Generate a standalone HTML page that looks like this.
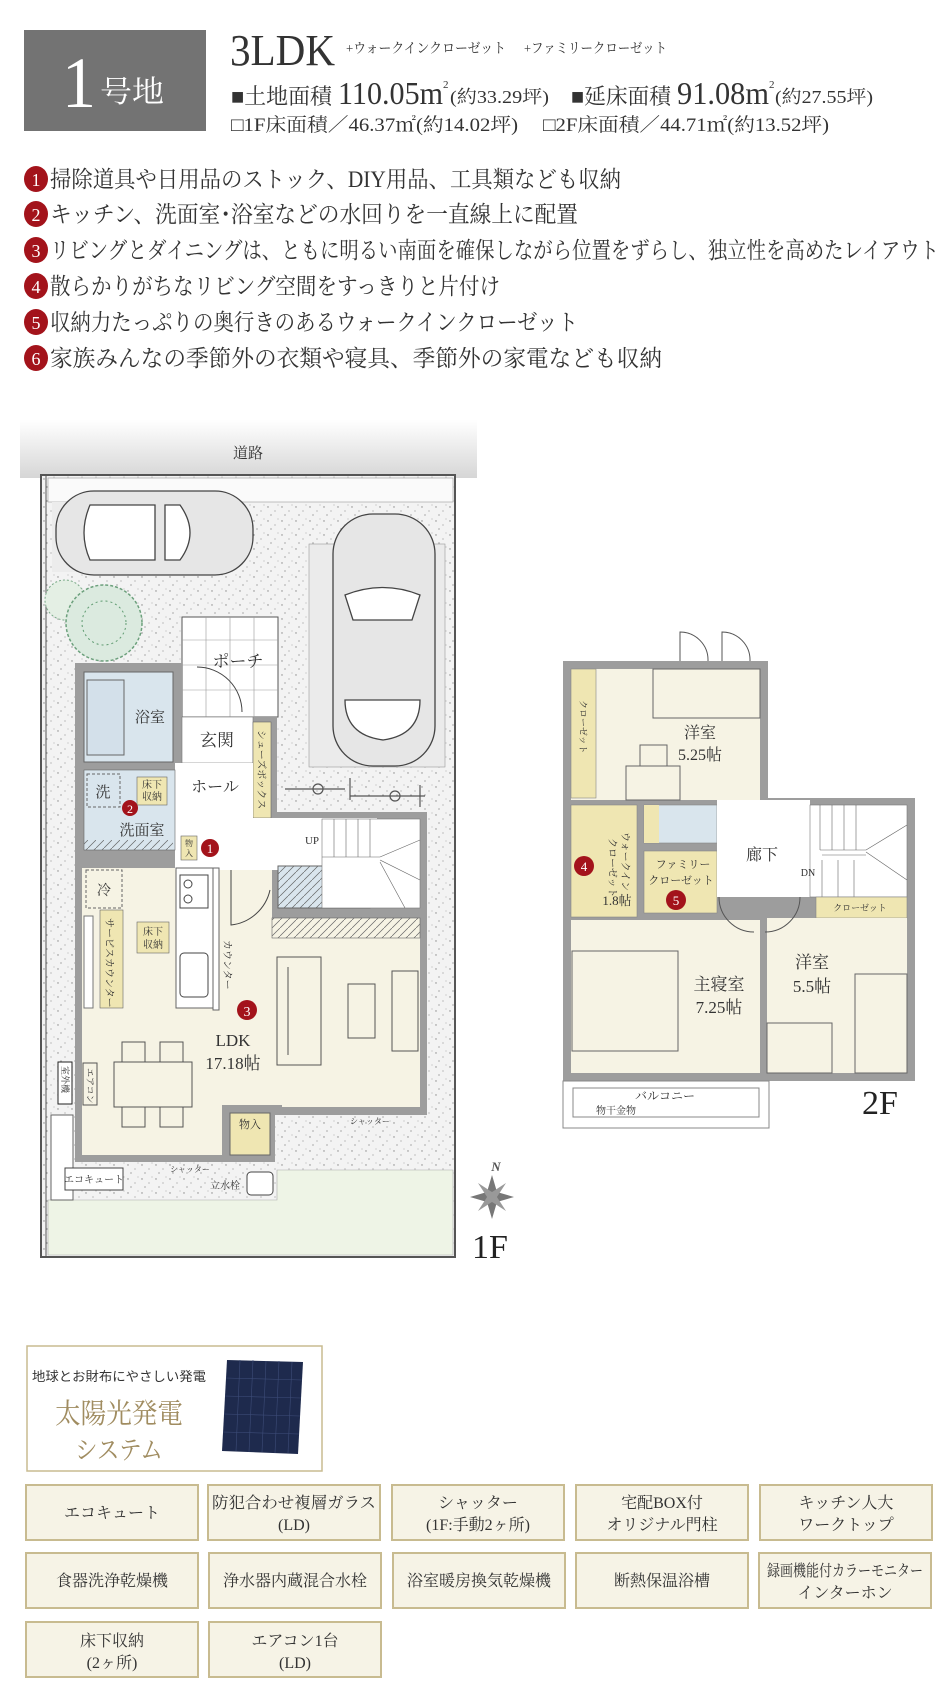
<!DOCTYPE html>
<html><head><meta charset="utf-8"><style>
html,body{margin:0;padding:0;background:#fff;}
body{width:950px;height:1700px;overflow:hidden;}
svg text{font-family:"Liberation Serif","Noto Serif CJK SC",serif;fill:#333;}
.s{font-family:"Liberation Sans","Noto Sans CJK SC",sans-serif;}
</style></head><body>
<svg width="950" height="1700" viewBox="0 0 950 1700" xmlns="http://www.w3.org/2000/svg">
<defs>
<pattern id="sp" width="14" height="14" patternUnits="userSpaceOnUse">
<rect width="14" height="14" fill="#f3f3f3"/>
<circle cx="2" cy="3" r=".7" fill="#888"/><circle cx="9" cy="7" r=".6" fill="#999"/><circle cx="5" cy="11" r=".6" fill="#777"/><circle cx="12" cy="1" r=".5" fill="#999"/>
</pattern>
<pattern id="ht" width="8" height="8" patternUnits="userSpaceOnUse">
<path d="M0 8 L8 0" stroke="#666" stroke-width=".7"/>
</pattern>
<linearGradient id="rd" x1="0" y1="0" x2="0" y2="1"><stop offset="0" stop-color="#fff"/><stop offset="1" stop-color="#d6d6d6"/></linearGradient>
</defs>

<!-- header -->
<rect x="24" y="30" width="182" height="101" fill="#737373"/>
<text x="62" y="107" font-size="72" style="fill:#fff" textLength="34" lengthAdjust="spacingAndGlyphs">1</text>
<text x="100" y="102" font-size="30" style="fill:#fff" textLength="64" lengthAdjust="spacingAndGlyphs">号地</text>
<text x="230" y="65" font-size="44" textLength="105" lengthAdjust="spacingAndGlyphs">3LDK</text>
<text x="346" y="53" font-size="14" textLength="160" lengthAdjust="spacingAndGlyphs">+ウォークインクローゼット</text>
<text x="524" y="53" font-size="14" textLength="143" lengthAdjust="spacingAndGlyphs">+ファミリークローゼット</text>
<text x="231" y="104" font-size="22" textLength="101" lengthAdjust="spacingAndGlyphs">■土地面積</text>
<text x="338" y="104" font-size="32" textLength="105" lengthAdjust="spacingAndGlyphs">110.05m</text>
<text x="443" y="88" font-size="11">2</text>
<text x="450" y="103" font-size="18" textLength="99" lengthAdjust="spacingAndGlyphs">(約33.29坪)</text>
<text x="571" y="104" font-size="22" textLength="100" lengthAdjust="spacingAndGlyphs">■延床面積</text>
<text x="677" y="104" font-size="32" textLength="92" lengthAdjust="spacingAndGlyphs">91.08m</text>
<text x="769" y="88" font-size="11">2</text>
<text x="775" y="103" font-size="18" textLength="98" lengthAdjust="spacingAndGlyphs">(約27.55坪)</text>
<text x="231" y="131" font-size="19" textLength="287" lengthAdjust="spacingAndGlyphs">□1F床面積／46.37㎡(約14.02坪)</text>
<text x="543" y="131" font-size="19" textLength="286" lengthAdjust="spacingAndGlyphs">□2F床面積／44.71㎡(約13.52坪)</text>

<!-- bullets -->
<g font-size="23">
<ellipse cx="36" cy="179" rx="12" ry="13" fill="#a3131b"/><text x="36" y="186" font-size="18" text-anchor="middle" style="fill:#fff">1</text>
<text x="50" y="187" textLength="571" lengthAdjust="spacingAndGlyphs">掃除道具や日用品のストック、DIY用品、工具類なども収納</text>
<ellipse cx="36" cy="214" rx="12" ry="13" fill="#a3131b"/><text x="36" y="221" font-size="18" text-anchor="middle" style="fill:#fff">2</text>
<text x="50" y="222" textLength="528" lengthAdjust="spacingAndGlyphs">キッチン、洗面室･浴室などの水回りを一直線上に配置</text>
<ellipse cx="36" cy="250" rx="12" ry="13" fill="#a3131b"/><text x="36" y="257" font-size="18" text-anchor="middle" style="fill:#fff">3</text>
<text x="50" y="258" textLength="889" lengthAdjust="spacingAndGlyphs">リビングとダイニングは、ともに明るい南面を確保しながら位置をずらし、独立性を高めたレイアウト</text>
<ellipse cx="36" cy="286" rx="12" ry="13" fill="#a3131b"/><text x="36" y="293" font-size="18" text-anchor="middle" style="fill:#fff">4</text>
<text x="50" y="294" textLength="450" lengthAdjust="spacingAndGlyphs">散らかりがちなリビング空間をすっきりと片付け</text>
<ellipse cx="36" cy="322" rx="12" ry="13" fill="#a3131b"/><text x="36" y="329" font-size="18" text-anchor="middle" style="fill:#fff">5</text>
<text x="50" y="330" textLength="528" lengthAdjust="spacingAndGlyphs">収納力たっぷりの奥行きのあるウォークインクローゼット</text>
<ellipse cx="36" cy="358" rx="12" ry="13" fill="#a3131b"/><text x="36" y="365" font-size="18" text-anchor="middle" style="fill:#fff">6</text>
<text x="50" y="366" textLength="612" lengthAdjust="spacingAndGlyphs">家族みんなの季節外の衣類や寝具、季節外の家電なども収納</text>
</g>

<!-- 1F -->
<rect x="20" y="420" width="457" height="58" fill="url(#rd)"/>
<text x="248" y="458" font-size="15" text-anchor="middle">道路</text>
<rect x="41" y="475" width="414" height="782" fill="url(#sp)" stroke="#555" stroke-width="2"/>
<line x1="46" y1="476" x2="46" y2="1256" stroke="#555" stroke-width="1"/>
<rect x="48" y="478" width="405" height="24" fill="#fafafa" stroke="#999" stroke-width=".6"/>
<rect x="52" y="502" width="140" height="70" fill="#ececec"/>
<rect x="309" y="544" width="136" height="223" fill="#ebebeb" stroke="#999" stroke-width=".6"/>
<!-- lawn -->
<path d="M48 1200 L277 1200 L277 1170 L453 1170 L453 1255 L48 1255 Z" fill="#eef4e6" stroke="#aaa" stroke-width=".6"/>
<!-- cars -->
<g fill="#e6e6e6" stroke="#444" stroke-width="1.3">
<rect x="56" y="491" width="197" height="84" rx="38"/>
<path d="M90 505 Q78 533 90 560 L155 560 L155 505 Z" fill="#fff"/>
<path d="M180 505 Q200 533 180 560 L165 560 L165 505 Z" fill="#fff"/>
<rect x="333" y="514" width="102" height="252" rx="40"/>
<path d="M345 595 Q383 580 420 595 L412 620 L353 620 Z" fill="#fff"/>
<path d="M345 700 L420 700 Q420 735 383 740 Q345 735 345 700 Z" fill="#fff"/>
</g>
<!-- bicycles -->
<g stroke="#555" stroke-width="1.2" fill="none">
<line x1="285" y1="789" x2="345" y2="789"/><circle cx="318" cy="789" r="5"/><line x1="350" y1="778" x2="350" y2="800"/>
<line x1="350" y1="796" x2="425" y2="796"/><circle cx="395" cy="796" r="5"/><line x1="420" y1="785" x2="420" y2="807"/>
</g>
<!-- tree -->
<circle cx="65" cy="600" r="20" fill="#e4efe4" stroke="#7aaa88" stroke-dasharray="2 2"/>
<circle cx="104" cy="623" r="38" fill="#dbeadf" stroke="#6ca07c" stroke-width="1.5" stroke-dasharray="3 2"/>
<circle cx="104" cy="623" r="22" fill="none" stroke="#5e9a70" stroke-dasharray="2 3"/>
<!-- porch -->
<rect x="182" y="617" width="96" height="100" fill="#fff" stroke="#555"/>
<g stroke="#999" stroke-width=".6"><line x1="182" y1="640" x2="278" y2="640"/><line x1="182" y1="665" x2="278" y2="665"/><line x1="182" y1="690" x2="278" y2="690"/><line x1="206" y1="617" x2="206" y2="717"/><line x1="230" y1="617" x2="230" y2="717"/><line x1="254" y1="617" x2="254" y2="717"/></g>
<text x="238" y="667" font-size="17" text-anchor="middle">ポーチ</text>
<path d="M197 667 A45 45 0 0 1 242 712" fill="none" stroke="#444"/>
<!-- house walls base -->
<path d="M75 663 L182 663 L182 717 L277 717 L277 812 L427 812 L427 1115 L275 1115 L275 1162 L75 1162 Z" fill="#9d9d9d"/>
<!-- bath -->
<rect x="84" y="672" width="89" height="90" fill="#d9e5ed" stroke="#666"/>
<rect x="87" y="680" width="37" height="75" fill="#d3e0ea" stroke="#666"/>
<text x="150" y="722" font-size="15" text-anchor="middle">浴室</text>
<!-- genkan -->
<rect x="182" y="717" width="71" height="46" fill="#fff" stroke="#777" stroke-width=".6"/>
<text x="217" y="746" font-size="17" text-anchor="middle">玄関</text>
<rect x="253" y="722" width="18" height="96" fill="#efe6b2" stroke="#666" stroke-width=".6"/>
<text font-size="10" transform="translate(258,730) rotate(90)">シューズボックス</text>
<!-- hall -->
<rect x="175" y="763" width="78" height="107" fill="#fff"/>
<rect x="253" y="818" width="124" height="52" fill="#fff"/>
<text x="215" y="792" font-size="16" text-anchor="middle">ホール</text>
<!-- senmen -->
<rect x="84" y="770" width="91" height="80" fill="#d9e5ed" stroke="#666" stroke-width=".6"/>
<rect x="87" y="774" width="33" height="33" fill="none" stroke="#666" stroke-dasharray="3 2"/>
<text x="103" y="797" font-size="15" text-anchor="middle">洗</text>
<rect x="137" y="777" width="30" height="28" fill="#efe6b2" stroke="#666" stroke-width=".6"/>
<text x="152" y="788" font-size="10" text-anchor="middle">床下</text><text x="152" y="800" font-size="10" text-anchor="middle">収納</text>
<circle cx="130" cy="808" r="8" fill="#a3131b"/><text x="130" y="813" font-size="12" text-anchor="middle" style="fill:#fff">2</text>
<text x="142" y="835" font-size="15" text-anchor="middle">洗面室</text>
<rect x="84" y="840" width="89" height="10" fill="url(#ht)"/>
<rect x="181" y="836" width="16" height="24" fill="#efe6b2" stroke="#666" stroke-width=".6"/>
<text x="189" y="846" font-size="8" text-anchor="middle">物</text><text x="189" y="856" font-size="8" text-anchor="middle">入</text>
<circle cx="210" cy="848" r="9" fill="#a3131b"/><text x="210" y="853" font-size="13" text-anchor="middle" style="fill:#fff">1</text>
<!-- LDK -->
<path d="M82 868 L175 868 L175 870 L272 870 L272 918 L420 918 L420 1107 L282 1107 L282 1105 L222 1105 L222 1155 L82 1155 Z" fill="#f6f3e4"/>
<rect x="278" y="866" width="92" height="42" fill="#d9e5ed" stroke="#666"/>
<rect x="278" y="866" width="92" height="42" fill="url(#ht)"/>
<rect x="355" y="866" width="15" height="42" fill="#efe6b2" opacity=".8"/>
<rect x="322" y="819" width="98" height="89" fill="#fff" stroke="#777" stroke-width=".6"/>
<g stroke="#666" stroke-width=".6"><line x1="334" y1="819" x2="334" y2="857"/><line x1="346" y1="819" x2="346" y2="857"/><line x1="358" y1="819" x2="358" y2="857"/><line x1="370" y1="819" x2="370" y2="857"/><line x1="322" y1="857" x2="380" y2="857"/><line x1="380" y1="857" x2="420" y2="840"/><line x1="380" y1="860" x2="420" y2="880"/><line x1="380" y1="862" x2="405" y2="908"/></g>
<text x="312" y="844" font-size="11" text-anchor="middle">UP</text>
<rect x="272" y="918" width="148" height="20" fill="#f6f3e4" stroke="#666" stroke-width=".6"/>
<rect x="272" y="918" width="148" height="20" fill="url(#ht)"/>
<path d="M231 870 L231 925 A45 45 0 0 0 270 890" fill="none" stroke="#444"/>
<!-- kitchen -->
<rect x="176" y="868" width="37" height="140" fill="#fff" stroke="#666"/>
<rect x="180" y="875" width="28" height="33" fill="#fff" stroke="#444"/>
<circle cx="188" cy="884" r="4" fill="none" stroke="#444"/><circle cx="188" cy="899" r="4" fill="none" stroke="#444"/>
<rect x="180" y="953" width="28" height="44" rx="4" fill="#fff" stroke="#444"/>
<rect x="213" y="868" width="6" height="142" fill="#fff" stroke="#666"/>
<text font-size="10" transform="translate(224,940) rotate(90)">カウンター</text>
<rect x="86" y="870" width="36" height="38" fill="none" stroke="#666" stroke-dasharray="3 2"/>
<text x="104" y="895" font-size="14" text-anchor="middle">冷</text>
<rect x="100" y="910" width="23" height="98" fill="#efe6b2" stroke="#666" stroke-width=".6"/>
<text font-size="10" transform="translate(106,918) rotate(90)">サービスカウンター</text>
<rect x="84" y="916" width="9" height="92" fill="#fff" stroke="#777"/>
<rect x="137" y="922" width="32" height="31" fill="#efe6b2" stroke="#666" stroke-width=".6"/>
<text x="153" y="935" font-size="10" text-anchor="middle">床下</text><text x="153" y="948" font-size="10" text-anchor="middle">収納</text>
<rect x="277" y="957" width="44" height="108" fill="#f6f3e4" stroke="#555"/>
<line x1="288" y1="967" x2="288" y2="1055" stroke="#555"/>
<rect x="348" y="984" width="27" height="54" fill="#f6f3e4" stroke="#555"/>
<rect x="392" y="971" width="26" height="80" fill="#f6f3e4" stroke="#555"/>
<circle cx="247" cy="1010" r="10" fill="#a3131b"/><text x="247" y="1016" font-size="14" text-anchor="middle" style="fill:#fff">3</text>
<text x="233" y="1046" font-size="17" text-anchor="middle">LDK</text>
<text x="233" y="1069" font-size="17" text-anchor="middle">17.18帖</text>
<g fill="#f6f3e4" stroke="#555"><rect x="122" y="1042" width="23" height="20"/><rect x="160" y="1042" width="23" height="20"/><rect x="122" y="1107" width="23" height="20"/><rect x="160" y="1107" width="23" height="20"/><rect x="114" y="1062" width="78" height="45"/></g>
<rect x="83" y="1063" width="14" height="42" fill="none" stroke="#555"/>
<text font-size="9" transform="translate(87,1068) rotate(90)">エアコン</text>
<rect x="58" y="1062" width="14" height="42" fill="#fff" stroke="#222"/>
<text font-size="9" transform="translate(62,1066) rotate(90)">室外機</text>
<rect x="230" y="1113" width="40" height="42" fill="#efe6b2" stroke="#666"/>
<text x="250" y="1128" font-size="11" text-anchor="middle">物入</text>
<rect x="51" y="1115" width="22" height="85" fill="#fff" stroke="#666"/>
<rect x="65" y="1168" width="58" height="22" fill="#fff" stroke="#444"/>
<text x="94" y="1183" font-size="10" text-anchor="middle">エコキュート</text>
<text x="225" y="1189" font-size="10" text-anchor="middle">立水栓</text>
<rect x="247" y="1172" width="26" height="23" rx="4" fill="#fff" stroke="#444"/>
<text x="170" y="1172" font-size="8" fill="#777">シャッター</text>
<text x="350" y="1124" font-size="8" fill="#777">シャッター</text>
<!-- compass -->
<g transform="translate(492,1197)"><path d="M0 -22 L5 -5 L22 0 L5 5 L0 22 L-5 5 L-22 0 L-5 -5 Z" fill="#777"/><path d="M-14 -14 L3 -3 L14 14 L-3 3 Z" fill="#999"/><path d="M14 -14 L3 3 L-14 14 L-3 -3 Z" fill="#999"/></g>
<text x="496" y="1171" font-size="13" font-style="italic" font-weight="bold" text-anchor="middle" style="fill:#555">N</text>
<text x="490" y="1258" font-size="34" text-anchor="middle" style="fill:#222">1F</text>

<!-- 2F -->
<path d="M563 661 L768 661 L768 798 L915 798 L915 1081 L563 1081 Z" fill="#9d9d9d"/>
<rect x="571" y="669" width="189" height="131" fill="#f6f3e4"/>
<rect x="571" y="669" width="25" height="129" fill="#efe6b2" stroke="#888" stroke-width=".6"/>
<text font-size="9" transform="translate(580,700) rotate(90)">クローゼット</text>
<rect x="653" y="669" width="107" height="49" fill="none" stroke="#666"/>
<rect x="626" y="766" width="54" height="34" fill="none" stroke="#666"/>
<rect x="640" y="745" width="27" height="21" fill="none" stroke="#666"/>
<text x="700" y="738" font-size="16" text-anchor="middle">洋室</text>
<text x="700" y="760" font-size="16" text-anchor="middle">5.25帖</text>
<path d="M680 661 L680 632 A28 28 0 0 1 708 661" fill="#fff" stroke="#555"/>
<path d="M722 661 L722 632 A28 28 0 0 1 750 661" fill="#fff" stroke="#555"/>
<rect x="571" y="805" width="66" height="112" fill="#efe6b2" stroke="#888" stroke-width=".6"/>
<circle cx="584" cy="866" r="10" fill="#a3131b"/><text x="584" y="871" font-size="13" text-anchor="middle" style="fill:#fff">4</text>
<text font-size="10" transform="translate(622,832) rotate(90)">ウォークイン</text>
<text font-size="10" transform="translate(609,838) rotate(90)">クローゼット</text>
<text x="617" y="905" font-size="13" text-anchor="middle">1.8帖</text>
<rect x="644" y="805" width="73" height="38" fill="#d9e5ed" stroke="#888" stroke-width=".6"/>
<rect x="644" y="805" width="15" height="38" fill="#efe6b2"/>
<rect x="644" y="851" width="73" height="62" fill="#efe6b2" stroke="#888" stroke-width=".6"/>
<text x="683" y="868" font-size="11" text-anchor="middle">ファミリー</text>
<text x="681" y="884" font-size="11" text-anchor="middle">クローゼット</text>
<circle cx="676" cy="900" r="10" fill="#a3131b"/><text x="676" y="905" font-size="13" text-anchor="middle" style="fill:#fff">5</text>
<rect x="717" y="800" width="93" height="97" fill="#fff"/>
<text x="762" y="860" font-size="16" text-anchor="middle">廊下</text>
<rect x="810" y="805" width="97" height="92" fill="#fff" stroke="#777" stroke-width=".6"/>
<g stroke="#666" stroke-width=".6"><line x1="820" y1="805" x2="820" y2="850"/><line x1="832" y1="805" x2="832" y2="850"/><line x1="844" y1="805" x2="844" y2="850"/><line x1="856" y1="805" x2="856" y2="850"/><line x1="820" y1="850" x2="866" y2="850"/><line x1="822" y1="855" x2="866" y2="855"/><line x1="866" y1="850" x2="907" y2="825"/><line x1="866" y1="852" x2="907" y2="880"/><line x1="822" y1="860" x2="822" y2="897"/><line x1="838" y1="860" x2="838" y2="897"/><line x1="854" y1="860" x2="854" y2="897"/></g>
<text x="808" y="876" font-size="10" text-anchor="middle">DN</text>
<rect x="816" y="897" width="91" height="21" fill="#efe6b2" stroke="#888" stroke-width=".6"/>
<text x="860" y="911" font-size="9" text-anchor="middle">クローゼット</text>
<rect x="571" y="920" width="189" height="153" fill="#f6f3e4"/>
<rect x="572" y="951" width="106" height="100" fill="none" stroke="#666"/>
<text x="719" y="990" font-size="17" text-anchor="middle">主寝室</text>
<text x="719" y="1013" font-size="17" text-anchor="middle">7.25帖</text>
<rect x="767" y="918" width="140" height="155" fill="#f6f3e4"/>
<rect x="855" y="974" width="52" height="99" fill="none" stroke="#666"/>
<rect x="767" y="1023" width="65" height="50" fill="none" stroke="#666"/>
<text x="812" y="968" font-size="17" text-anchor="middle">洋室</text>
<text x="812" y="992" font-size="17" text-anchor="middle">5.5帖</text>
<path d="M719 897 A35 35 0 0 0 754 932 M765 932 A35 35 0 0 0 800 897" fill="none" stroke="#555"/>
<rect x="563" y="1081" width="206" height="47" fill="#fff" stroke="#888"/>
<rect x="573" y="1088" width="186" height="29" fill="none" stroke="#888"/>
<text x="665" y="1100" font-size="12" text-anchor="middle">バルコニー</text>
<text x="596" y="1114" font-size="10">物干金物</text>
<text x="880" y="1114" font-size="34" text-anchor="middle" style="fill:#222">2F</text>

<!-- solar -->
<rect x="27" y="1346" width="295" height="125" fill="#fff" stroke="#c8bb90" stroke-width="1.5"/>
<text x="32" y="1381" font-size="13" class="s" textLength="174" lengthAdjust="spacingAndGlyphs">地球とお財布にやさしい発電</text>
<text x="55" y="1423" font-size="28" style="fill:#a08c60" textLength="128" lengthAdjust="spacingAndGlyphs">太陽光発電</text>
<text x="75" y="1459" font-size="26" style="fill:#a08c60" textLength="88" lengthAdjust="spacingAndGlyphs">システム</text>
<path d="M227 1360 L303 1362 L298 1454 L222 1451 Z" fill="#1e2a4d"/>
<g stroke="#3d4c78" stroke-width=".6"><line x1="240" y1="1360" x2="236" y2="1451"/><line x1="253" y1="1360" x2="249" y2="1452"/><line x1="266" y1="1361" x2="262" y2="1452"/><line x1="279" y1="1361" x2="275" y2="1453"/><line x1="292" y1="1362" x2="288" y2="1453"/><line x1="226" y1="1378" x2="302" y2="1380"/><line x1="225" y1="1396" x2="301" y2="1398"/><line x1="224" y1="1414" x2="300" y2="1416"/><line x1="223" y1="1432" x2="299" y2="1434"/></g>

<!-- feature buttons -->
<g font-size="16" text-anchor="middle">
<g fill="#f6f3e6" stroke="#c8bb90" stroke-width="2">
<rect x="26" y="1485" width="172" height="55"/><rect x="208" y="1485" width="172" height="55"/><rect x="392" y="1485" width="172" height="55"/><rect x="576" y="1485" width="172" height="55"/><rect x="760" y="1485" width="172" height="55"/>
<rect x="26" y="1553" width="172" height="55"/><rect x="209" y="1553" width="172" height="55"/><rect x="393" y="1553" width="172" height="55"/><rect x="576" y="1553" width="172" height="55"/><rect x="759" y="1553" width="172" height="55"/>
<rect x="26" y="1622" width="172" height="55"/><rect x="209" y="1622" width="172" height="55"/>
</g>
<g style="fill:#555">
<text x="112" y="1518">エコキュート</text>
<text x="294" y="1508" textLength="164" lengthAdjust="spacingAndGlyphs">防犯合わせ複層ガラス</text><text x="294" y="1530">(LD)</text>
<text x="478" y="1508">シャッター</text><text x="478" y="1530">(1F:手動2ヶ所)</text>
<text x="662" y="1508">宅配BOX付</text><text x="662" y="1530">オリジナル門柱</text>
<text x="846" y="1508">キッチン人大</text><text x="846" y="1530">ワークトップ</text>
<text x="112" y="1586">食器洗浄乾燥機</text>
<text x="295" y="1586">浄水器内蔵混合水栓</text>
<text x="479" y="1586">浴室暖房換気乾燥機</text>
<text x="662" y="1586">断熱保温浴槽</text>
<text x="845" y="1576" textLength="156" lengthAdjust="spacingAndGlyphs">録画機能付カラーモニター</text><text x="845" y="1598">インターホン</text>
<text x="112" y="1646">床下収納</text><text x="112" y="1668">(2ヶ所)</text>
<text x="295" y="1646">エアコン1台</text><text x="295" y="1668">(LD)</text>
</g></g>
</svg>
</body></html>
